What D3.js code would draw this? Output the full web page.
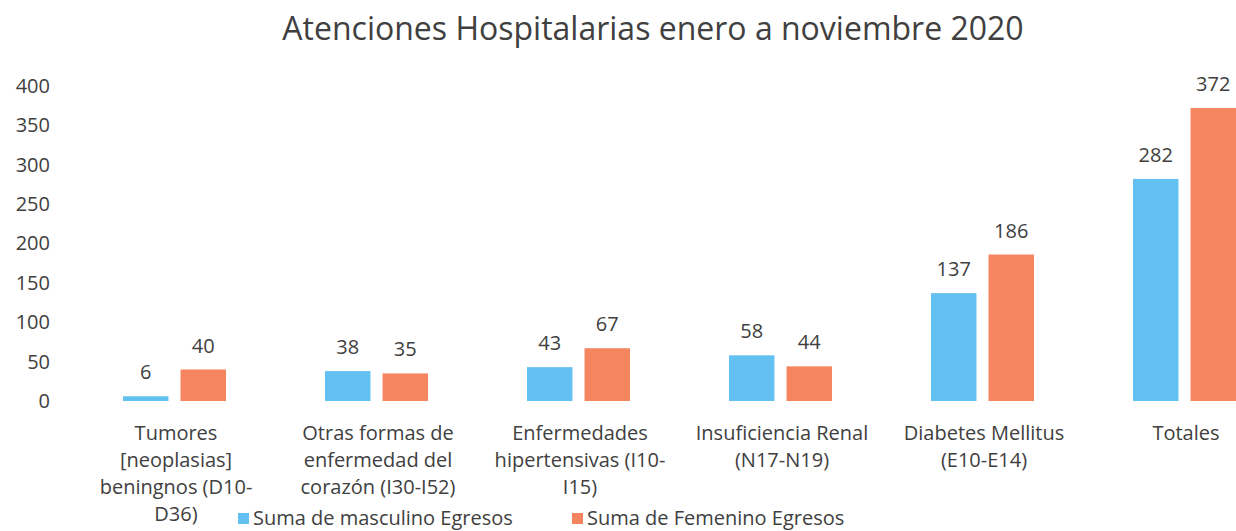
<!DOCTYPE html>
<html>
<head>
<meta charset="utf-8">
<script src="https://cdn.jsdelivr.net/npm/d3@7/dist/d3.min.js"></script>
<style>
  body { margin: 0; background: #fff; }
  text { font-family: "Open Sans", sans-serif; fill: #404040; }
</style>
</head>
<body>
<script>
// data
const categories = [
  ["Tumores", "[neoplasias]", "beningnos (D10-", "D36)"],
  ["Otras formas de", "enfermedad del", "corazón (I30-I52)"],
  ["Enfermedades", "hipertensivas (I10-", "I15)"],
  ["Insuficiencia Renal", "(N17-N19)"],
  ["Diabetes Mellitus", "(E10-E14)"],
  ["Totales"]
];
const masculino = [6, 38, 43, 58, 137, 282];
const femenino = [40, 35, 67, 44, 186, 372];
const seriesNames = ["Suma de masculino Egresos", "Suma de Femenino Egresos"];
const yTicks = [0, 50, 100, 150, 200, 250, 300, 350, 400];

const width = 1236, height = 531;
const colors = ["#62c1f0", "#f5855f"];

const svg = d3.select("body").append("svg")
    .attr("width", width)
    .attr("height", height);

svg.append("text")
    .attr("x", 653)
    .attr("y", 40)
    .attr("text-anchor", "middle")
    .style("font-size", "32px")
    .text("Atenciones Hospitalarias enero a noviembre 2020");

// plot runs off the right edge like the reference crop
const x = d3.scaleBand()
    .domain(d3.range(categories.length))
    .range([75, 1287]);

const x1 = d3.scaleBand()
    .domain([0, 1])
    .range([x.bandwidth() / 2 - 53, x.bandwidth() / 2 + 50])
    .paddingInner(0.21);

const y = d3.scaleLinear()
    .domain([0, 400])
    .range([401, 86]);

const yAxis = g => g
    .attr("transform", "translate(50,0)")
    .call(d3.axisLeft(y).tickValues(yTicks).tickSize(0).tickPadding(0))
    .call(g => g.select(".domain").remove())
    .call(g => g.selectAll("text")
        .style("font-size", "20px")
        .style("font-family", "'Open Sans', sans-serif")
        .attr("fill", "#404040"));

svg.append("g").call(yAxis);

const rows = categories.map((c, i) => [masculino[i], femenino[i]]);

const grp = svg.append("g")
  .selectAll("g")
  .data(rows)
  .join("g")
    .attr("transform", (d, i) => `translate(${x(i)},0)`);

grp.selectAll("rect")
  .data(d => d)
  .join("rect")
    .attr("x", (d, j) => x1(j))
    .attr("width", x1.bandwidth())
    .attr("y", d => y(d))
    .attr("height", d => y(0) - y(d))
    .attr("fill", (d, j) => colors[j]);

grp.selectAll("text.val")
  .data(d => d)
  .join("text")
    .attr("class", "val")
    .attr("x", (d, j) => x1(j) + x1.bandwidth() / 2)
    .attr("y", d => y(d) - 17)
    .attr("text-anchor", "middle")
    .style("font-size", "20px")
    .text(d => d);

// category labels
svg.append("g")
  .selectAll("text")
  .data(categories)
  .join("text")
    .attr("x", (d, i) => x(i) + x.bandwidth() / 2)
    .attr("y", 440)
    .attr("text-anchor", "middle")
    .style("font-size", "20px")
  .selectAll("tspan")
  .data(d => d)
  .join("tspan")
    .attr("x", function() { return this.parentNode.getAttribute("x"); })
    .attr("dy", (d, k) => k === 0 ? 0 : 27)
    .text(d => d);

// legend
const legX = [238, 572];
const leg = svg.append("g")
  .selectAll("g")
  .data(seriesNames)
  .join("g")
    .attr("transform", (d, i) => `translate(${legX[i]},513)`);

leg.append("rect")
    .attr("width", 11)
    .attr("height", 11)
    .attr("fill", (d, i) => colors[i]);

leg.append("text")
    .attr("x", 15)
    .attr("y", 12)
    .style("font-size", "20px")
    .text(d => d);
</script>
</body>
</html>
